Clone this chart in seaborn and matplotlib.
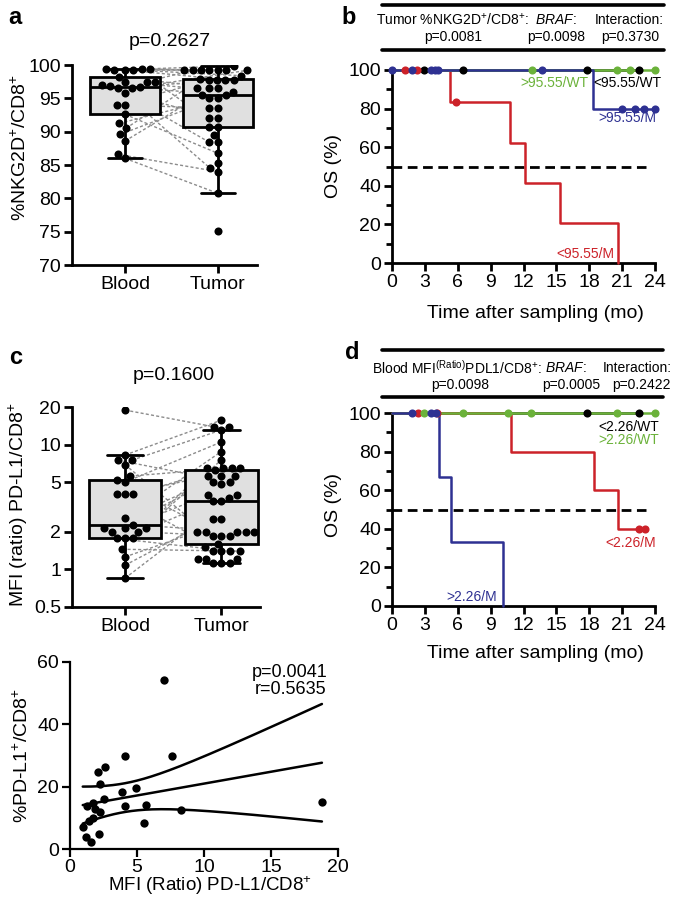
import numpy as np
import pandas as pd
import matplotlib
matplotlib.use("Agg")
import matplotlib.pyplot as plt
import seaborn as sns
from matplotlib.lines import Line2D
from matplotlib.ticker import MultipleLocator, NullLocator

# ---- panel a: %NKG2D+/CD8+ (blood vs tumor)
a_blood = [99.4, 99.4, 99.4, 99.25, 99.25, 99.25, 98.25, 97.5, 97.5, 97.4, 97.0, 96.9,
           96.75, 96.5, 96.5, 95.75, 94.0, 94.0, 92.6, 91.25, 90.5, 89.6, 88.6, 86.6, 86.0]
a_tumor = [99.85, 99.2, 99.2, 99.2, 99.2, 99.2, 99.2, 99.2, 98.4, 97.85, 97.7, 97.7, 97.7,
           97.7, 96.5, 96.5, 96.5, 96.0, 95.5, 95.5, 95.0, 95.0, 93.5, 93.5, 92.0, 92.0,
           90.75, 90.75, 89.5, 88.4, 88.4, 86.75, 85.25, 84.5, 84.0, 80.75, 75.1]
# paired samples (blood value -> tumor value)
a_pair_blood = [99.4, 99.4, 99.4, 99.25, 99.25, 99.25, 98.25, 97.5, 97.5, 97.4, 97.0, 96.9,
                96.75, 96.5, 96.5, 95.75, 94.0, 94.0, 92.6, 91.25, 90.5, 89.6, 88.6, 86.6, 86.0]
a_pair_tumor = [99.2, 99.85, 99.2, 98.4, 99.2, 97.7, 96.5, 99.2, 90.75, 96.5, 95.5, 88.4,
                97.7, 84.5, 99.2, 92.0, 93.5, 97.7, 86.75, 95.0, 97.85, 96.0, 97.7, 84.0, 80.75]

# ---- panel c: MFI (ratio) PD-L1/CD8+
c_blood = [18.9, 8.25, 7.5, 7.5, 6.9, 5.6, 5.2, 5.0, 4.0, 4.0, 4.0, 2.6, 2.27, 2.15, 2.15,
           2.15, 2.0, 2.0, 1.77, 1.77, 1.77, 1.45, 1.26, 1.08, 0.85]
c_tumor = [15.7, 13.9, 13.9, 13.1, 10.5, 8.8, 7.5, 6.5, 6.5, 6.5, 6.5, 6.2, 5.6, 5.6, 5.6,
           5.0, 5.0, 4.8, 3.95, 3.95, 3.7, 3.5, 3.5, 2.55, 2.55, 2.0, 2.0, 2.0, 2.0, 2.0,
           1.85, 1.85, 1.85, 1.6, 1.5, 1.4, 1.4, 1.4, 1.4, 1.22, 1.22, 1.22, 1.12, 1.12, 1.12]
c_pair_blood = [18.9, 8.25, 7.5, 7.5, 6.9, 5.6, 5.2, 5.0, 4.0, 4.0, 4.0, 2.6, 2.27, 2.15,
                2.15, 2.15, 2.0, 2.0, 1.77, 1.77, 1.77, 1.45, 1.26, 1.08, 0.85]
c_pair_tumor = [13.9, 15.7, 13.1, 5.0, 2.0, 6.5, 1.85, 10.5, 6.5, 1.4, 5.6, 8.8, 2.0, 7.5,
                6.5, 3.95, 5.6, 1.85, 6.5, 1.4, 3.5, 1.4, 2.0, 2.55, 3.7]
c_ticks = [0.5, 1, 2, 5, 10, 20]
c_ticklabels = ["0.5", "1", "2", "5", "10", "20"]

# ---- panel b: KM, tumor %NKG2D+ x BRAF
b_black_t, b_black_s = [0, 22.5], [100, 100]
b_red_t, b_red_s = [0, 5.3, 10.8, 12.1, 15.3, 20.6], [100, 83.6, 62.3, 41.5, 20.5, 0]
b_green_t, b_green_s = [0, 24], [100, 100]
b_blue_t, b_blue_s = [0, 18.3, 24], [100, 80, 80]
b_black_ct, b_black_cs = [2.9, 6.5, 17.8, 22.5], [100, 100, 100, 100]
b_red_ct, b_red_cs = [1.2, 2.3, 5.8], [100, 100, 83.6]
b_green_ct, b_green_cs = [12.8, 20.5, 21.7, 24], [100, 100, 100, 100]
b_blue_ct = [0, 1.8, 3.6, 3.9, 4.2, 13.7, 21.0, 22.2, 23.0, 24.0]
b_blue_cs = [100, 100, 100, 100, 100, 100, 80, 80, 80, 80]

# ---- panel d: KM, blood MFI PD-L1 x BRAF
d_black_t, d_black_s = [0, 22.5], [100, 100]
d_red_t, d_red_s = [0, 10.9, 18.4, 20.6, 23.1], [100, 80, 60, 40, 40]
d_green_t, d_green_s = [0, 24], [100, 100]
d_blue_t, d_blue_s = [0, 4.3, 5.4, 10.1], [100, 66.7, 33.3, 0]
d_black_ct, d_black_cs = [17.8, 22.5], [100, 100]
d_red_ct, d_red_cs = [2.4, 4.1, 22.5, 23.1], [100, 100, 40, 40]
d_green_ct, d_green_cs = [2.9, 6.5, 10.6, 12.7, 20.5, 24], [100, 100, 100, 100, 100, 100]
d_blue_ct, d_blue_cs = [1.8, 3.6, 4.0], [100, 100, 100]

# ---- bottom: correlation MFI ratio vs %PD-L1+
sc_mfi = [0.95, 1.2, 1.25, 1.44, 1.55, 1.7, 1.74, 1.87, 2.1, 2.2, 2.24, 2.24, 2.5, 2.6,
          3.9, 4.1, 4.1, 4.9, 5.5, 5.7, 7.0, 7.6, 8.3, 18.8]
sc_pdl1 = [7.0, 3.8, 13.8, 9.0, 2.3, 10.0, 14.7, 12.7, 24.8, 4.8, 20.8, 12.0, 16.0, 26.2,
           18.2, 29.8, 13.9, 19.7, 8.4, 14.1, 54.2, 29.8, 12.5, 15.0]

RED, BLUE, GREEN, BOX_GRAY = "#cc2229", "#2e3192", "#6bb23a", "#e0e0e0"

sns.set_theme(style="ticks", rc={"axes.edgecolor": "black", "xtick.color": "black",
                                 "ytick.color": "black", "text.color": "black",
                                 "axes.labelcolor": "black"})
plt.rcParams["font.family"] = ["Liberation Sans", "DejaVu Sans"]
plt.rcParams["mathtext.fontset"] = "custom"
plt.rcParams["mathtext.rm"] = "Liberation Sans"
plt.rcParams["mathtext.it"] = "Liberation Sans:italic"
plt.rcParams["mathtext.bf"] = "Liberation Sans:bold"

W, H = 675, 900
fig = plt.figure(figsize=(W / 100, H / 100), dpi=100)


def add_ax(left, top, right, bottom):
    return fig.add_axes([left / W, 1 - bottom / H, (right - left) / W, (bottom - top) / H])


def ftext(x, y, s, **kw):
    kw.setdefault("ha", "center")
    kw.setdefault("va", "center")
    fig.text(x / W, 1 - y / H, s, **kw)


def hline(x0, x1, y, lw=2.6):
    fig.add_artist(Line2D([x0 / W, x1 / W], [1 - y / H, 1 - y / H], color="black", lw=lw))


def style(ax, lw=2.0, size=14):
    sns.despine(ax=ax)
    ax.spines["left"].set_linewidth(lw)
    ax.spines["bottom"].set_linewidth(lw)
    ax.tick_params(which="major", length=6, width=lw, labelsize=size, pad=2)
    ax.tick_params(which="minor", length=4, width=lw)
    ax.set_xlabel("")
    ax.set_ylabel("")


def box_swarm(ax, blood, tumor):
    df = pd.DataFrame({"site": ["Blood"] * len(blood) + ["Tumor"] * len(tumor),
                       "value": blood + tumor})
    sns.boxplot(data=df, x="site", y="value", ax=ax, width=0.75, color=BOX_GRAY,
                saturation=1, linecolor="black", linewidth=2, showfliers=False, whis=1.5)
    n0 = len(ax.collections)
    sns.swarmplot(data=df, x="site", y="value", ax=ax, color="black", size=5.8,
                  linewidth=0, zorder=4)
    return ax.collections[n0:n0 + 2]


def pair_lines(ax, colls, pb, pt):
    off_b = np.asarray(colls[0].get_offsets()).copy()
    off_t = np.asarray(colls[1].get_offsets()).copy()
    used_b, used_t = set(), set()

    def find(off, val, used):
        for i, (x, y) in enumerate(off):
            if i not in used and np.isclose(y, val):
                used.add(i)
                return x, y

    for vb, vt in zip(pb, pt):
        xb, yb = find(off_b, vb, used_b)
        xt, yt = find(off_t, vt, used_t)
        ax.plot([xb, xt], [yb, yt], color="#8c8c8c", lw=1.0, ls=(0, (2.2, 1.6)), zorder=1.5)


def km(ax, curves, censors):
    for t, s, c in curves:
        sns.lineplot(x=t, y=s, ax=ax, color=c, linewidth=1.8, drawstyle="steps-post",
                     estimator=None, sort=False, clip_on=False, zorder=3)
    for t, s, c in censors:
        sns.scatterplot(x=t, y=s, ax=ax, color=c, s=34, linewidth=0, clip_on=False, zorder=4)
    ax.hlines(50, 0, 23.2, colors="black", lw=2, linestyles=(0, (3.5, 2)), zorder=2)
    ax.set_xlim(0, 24)
    ax.set_ylim(0, 100)
    ax.xaxis.set_major_locator(MultipleLocator(3))
    ax.yaxis.set_major_locator(MultipleLocator(20))
    ax.yaxis.set_minor_locator(MultipleLocator(10))
    style(ax)


# ---------- panel a
ax_a = add_ax(72, 65, 257, 265)
colls_a = box_swarm(ax_a, a_blood, a_tumor)
ax_a.set_ylim(70, 100)
ax_a.set_xlim(-0.57, 1.42)
ax_a.yaxis.set_major_locator(MultipleLocator(5))
style(ax_a)
ftext(15, 18, "a", fontsize=17, fontweight="bold")
ftext(170, 41, "p=0.2627", fontsize=14)
ftext(20, 147, "%NKG2D$^{+}$/CD8$^{+}$", fontsize=14, rotation=90)

# ---------- panel c
ax_c = add_ax(72, 407, 260, 607)
colls_c = box_swarm(ax_c, c_blood, c_tumor)
ax_c.set_yscale("log")
ax_c.set_ylim(0.5, 20)
ax_c.set_xlim(-0.55, 1.4)
ax_c.set_yticks(c_ticks, labels=c_ticklabels)
ax_c.yaxis.set_minor_locator(NullLocator())
style(ax_c)
ftext(16, 357, "c", fontsize=17, fontweight="bold")
ftext(174, 375, "p=0.1600", fontsize=14)
ftext(18, 505, "MFI (ratio) PD-L1/CD8$^{+}$", fontsize=14, rotation=90)

# ---------- panel b
ax_b = add_ax(392, 70, 655, 263)
km(ax_b,
   [(b_black_t, b_black_s, "black"), (b_red_t, b_red_s, RED),
    (b_green_t, b_green_s, GREEN), (b_blue_t, b_blue_s, BLUE)],
   [(b_black_ct, b_black_cs, "black"), (b_red_ct, b_red_cs, RED),
    (b_green_ct, b_green_cs, GREEN), (b_blue_ct, b_blue_cs, BLUE)])
ax_b.text(17.9, 93.5, ">95.55/WT", color=GREEN, fontsize=10, ha="right", va="center")
ax_b.text(24.6, 93.5, "<95.55/WT", color="black", fontsize=10, ha="right", va="center")
ax_b.text(24.1, 75, ">95.55/M", color=BLUE, fontsize=10, ha="right", va="center")
ax_b.text(20.3, 4.5, "<95.55/M", color=RED, fontsize=10, ha="right", va="center")
ftext(349, 18, "b", fontsize=17, fontweight="bold")
hline(382, 664, 5)
hline(382, 664, 50)
ftext(376, 20, "Tumor %NKG2D$^{+}$/CD8$^{+}$:", fontsize=10, ha="left")
ftext(535, 20, "$\\mathit{BRAF}$:", fontsize=10, ha="left")
ftext(629, 20, "Interaction:", fontsize=10)
ftext(453, 37, "p=0.0081", fontsize=10)
ftext(556, 37, "p=0.0098", fontsize=10)
ftext(630, 37, "p=0.3730", fontsize=10)
ftext(334, 166, "OS (%)", fontsize=14, rotation=90)
ftext(535, 313, "Time after sampling (mo)", fontsize=14)

# ---------- panel d
ax_d = add_ax(392, 413, 655, 606)
km(ax_d,
   [(d_black_t, d_black_s, "black"), (d_red_t, d_red_s, RED),
    (d_green_t, d_green_s, GREEN), (d_blue_t, d_blue_s, BLUE)],
   [(d_black_ct, d_black_cs, "black"), (d_red_ct, d_red_cs, RED),
    (d_green_ct, d_green_cs, GREEN), (d_blue_ct, d_blue_cs, BLUE)])
ax_d.text(24.4, 93, "<2.26/WT", color="black", fontsize=10, ha="right", va="center")
ax_d.text(24.4, 86, ">2.26/WT", color=GREEN, fontsize=10, ha="right", va="center")
ax_d.text(24.1, 32.5, "<2.26/M", color=RED, fontsize=10, ha="right", va="center")
ax_d.text(9.6, 4.5, ">2.26/M", color=BLUE, fontsize=10, ha="right", va="center")
ftext(352, 352, "d", fontsize=17, fontweight="bold")
hline(382, 663, 350)
hline(382, 663, 397)
ftext(372, 368, "Blood MFI$^{\\mathrm{(Ratio)}}$PDL1/CD8$^{+}$:", fontsize=10, ha="left")
ftext(545, 368, "$\\mathit{BRAF}$:", fontsize=10, ha="left")
ftext(637, 368, "Interaction:", fontsize=10)
ftext(460, 385, "p=0.0098", fontsize=10)
ftext(571, 385, "p=0.0005", fontsize=10)
ftext(641, 385, "p=0.2422", fontsize=10)
ftext(334, 505, "OS (%)", fontsize=14, rotation=90)
ftext(535, 653, "Time after sampling (mo)", fontsize=14)

# ---------- correlation panel
ax_e = add_ax(70, 662, 338, 849)
x = np.array(sc_mfi)
y = np.array(sc_pdl1)
sns.scatterplot(x=x, y=y, ax=ax_e, color="black", s=36, linewidth=0, clip_on=False, zorder=3)
slope, icpt = np.polyfit(x, y, 1)
xs = np.linspace(x.min(), x.max(), 200)
fit = icpt + slope * xs
resid = y - (icpt + slope * x)
n = len(x)
se = np.sqrt(np.sum(resid ** 2) / (n - 2))
band = 2.074 * se * np.sqrt(1 / n + (xs - x.mean()) ** 2 / np.sum((x - x.mean()) ** 2))
for yy in (fit, fit + band, fit - band):
    ax_e.plot(xs, yy, color="black", lw=1.8, zorder=2)
ax_e.set_xlim(0, 20)
ax_e.set_ylim(0, 60)
ax_e.xaxis.set_major_locator(MultipleLocator(5))
ax_e.yaxis.set_major_locator(MultipleLocator(20))
style(ax_e, lw=1.6)
ax_e.tick_params(axis="x", pad=1)
ax_e.text(19.2, 56.5, "p=0.0041", fontsize=13, ha="right", va="center")
ax_e.text(19.1, 51.2, "r=0.5635", fontsize=13, ha="right", va="center")
ftext(210, 886, "MFI (Ratio) PD-L1/CD8$^{+}$", fontsize=13.5)
ftext(22, 755, "%PD-L1$^{+}$/CD8$^{+}$", fontsize=14, rotation=90)

# swarm positions are only known after a draw; then connect the paired samples
fig.canvas.draw()
pair_lines(ax_a, colls_a, a_pair_blood, a_pair_tumor)
pair_lines(ax_c, colls_c, c_pair_blood, c_pair_tumor)

fig.savefig("out.png", dpi=100)
